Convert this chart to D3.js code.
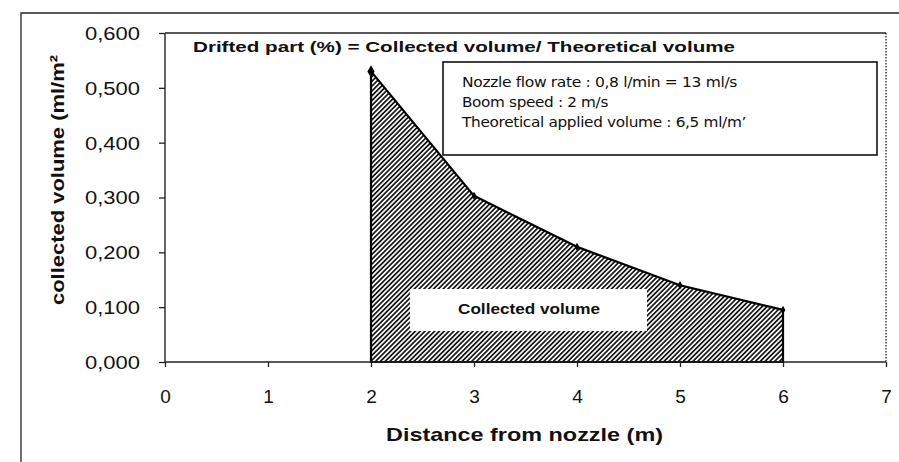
<!DOCTYPE html>
<html><head><meta charset="utf-8">
<script src="https://cdn.jsdelivr.net/npm/d3@7"></script>
<style>body{margin:0;background:#fff}svg{display:block}</style>
</head><body>
<script>
const distances = [2, 3, 4, 5, 6];
const volumes = [0.530, 0.303, 0.210, 0.140, 0.095];
const xTicks = [0, 1, 2, 3, 4, 5, 6, 7];
const yTicks = [0, 0.1, 0.2, 0.3, 0.4, 0.5, 0.6];
const titleText = "Drifted part (%) = Collected volume/ Theoretical volume";
const infoLines = ["Nozzle flow rate : 0,8 l/min = 13 ml/s", "Boom speed : 2 m/s", "Theoretical applied volume : 6,5 ml/m\u2019"];
const areaLabel = "Collected volume";

const W = 899, H = 462;
const svg = d3.select("body").append("svg").attr("width", W).attr("height", H);
const L = 165, R = 886, T = 33, B = 362;
const x = d3.scaleLinear().domain([0, 7]).range([L, R]);
const y = d3.scaleLinear().domain([0, 0.6]).range([B, T]);
const font = "Arial, 'Liberation Sans', sans-serif";

// hatch pattern
const defs = svg.append("defs");
const pat = defs.append("pattern").attr("id", "hatch").attr("patternUnits", "userSpaceOnUse")
  .attr("width", 3.4).attr("height", 3.4).attr("patternTransform", "rotate(45)");
pat.append("rect").attr("width", 3.4).attr("height", 3.4).attr("fill", "#fff");
pat.append("line").attr("x1", 0.9).attr("y1", 0).attr("x2", 0.9).attr("y2", 3.4)
  .attr("stroke", "#111").attr("stroke-width", 1.7);

// outer frame
svg.append("path").attr("d", `M21,${H} V13 H${W}`).attr("fill", "none").attr("stroke", "#222").attr("stroke-width", 1.3);

// plot border: top solid, right dotted
svg.append("line").attr("x1", L).attr("x2", R).attr("y1", T).attr("y2", T).attr("stroke", "#222").attr("stroke-width", 1.3);
svg.append("line").attr("x1", R).attr("x2", R).attr("y1", T).attr("y2", B).attr("stroke", "#222").attr("stroke-width", 1.3).attr("stroke-dasharray", "1.5,1.5");

// area
const pts = distances.map((d, i) => [d, volumes[i]]);
const area = d3.area().x(d => x(d[0])).y0(y(0)).y1(d => y(d[1]));
svg.append("path").datum(pts).attr("d", area).attr("fill", "url(#hatch)")
  .attr("stroke", "#000").attr("stroke-width", 2.2).attr("stroke-linejoin", "round");

// markers
svg.selectAll("path.mk").data(pts).enter().append("path").attr("class", "mk")
  .attr("d", (d, i) => d3.symbol().type(d3.symbolDiamond).size(i === 0 ? 45 : 20)())
  .attr("transform", d => `translate(${x(d[0])},${y(d[1])})`).attr("fill", "#000");

// axes
const yAxis = svg.append("g").attr("transform", `translate(${L},0)`)
  .call(d3.axisLeft(y).tickValues(yTicks).tickSize(6).tickPadding(19)
    .tickFormat(d => d3.format(".3f")(d).replace(".", ",")));
const xAxis = svg.append("g").attr("transform", `translate(0,${B})`)
  .call(d3.axisBottom(x).tickValues(xTicks).tickSize(5).tickPadding(23).tickFormat(d3.format("d")));
[yAxis, xAxis].forEach(g => {
  g.select(".domain").attr("stroke", "#222").attr("stroke-width", 1.4);
  g.selectAll(".tick line").attr("stroke", "#222").attr("stroke-width", 1.3);
  g.selectAll("text").attr("font-family", font).attr("fill", "#111");
});
yAxis.selectAll("text").attr("font-size", 18).attr("textLength", 55).attr("lengthAdjust", "spacingAndGlyphs")
  .attr("dy", "0.36em");
xAxis.selectAll("text").attr("font-size", 19).attr("dy", "0.71em");
xAxis.select(".domain").attr("d", `M${L},0H${R}`);
yAxis.select(".domain").attr("d", `M0,${B}V${T}`);

// title
svg.append("text").attr("x", 193).attr("y", 52).text(titleText)
  .attr("font-family", font).attr("font-weight", "bold").attr("font-size", 15.5)
  .attr("textLength", 542).attr("lengthAdjust", "spacingAndGlyphs").attr("fill", "#111");

// info box
svg.append("rect").attr("x", 443).attr("y", 62).attr("width", 434).attr("height", 93)
  .attr("fill", "#fff").attr("stroke", "#111").attr("stroke-width", 1.6);
svg.selectAll("text.info").data(infoLines).enter().append("text").attr("class", "info")
  .attr("x", 462).attr("y", (d, i) => 87 + i * 20).text(d => d)
  .attr("font-family", "Tahoma, 'DejaVu Sans', sans-serif").attr("font-size", 13.5)
  .attr("textLength", (d, i) => [275, 146, 284][i]).attr("lengthAdjust", "spacingAndGlyphs")
  .attr("letter-spacing", -0.3).attr("fill", "#111");

// collected volume box
svg.append("rect").attr("x", 410).attr("y", 289).attr("width", 237).attr("height", 42)
  .attr("fill", "#fff").attr("stroke", "none");
svg.append("text").attr("x", 458).attr("y", 314).text(areaLabel)
  .attr("font-family", font).attr("font-weight", "bold").attr("font-size", 14)
  .attr("textLength", 142).attr("lengthAdjust", "spacingAndGlyphs").attr("fill", "#111");

// axis titles
svg.append("text").attr("transform", "translate(64,305) rotate(-90)")
  .text("collected volume (ml/m²").attr("font-family", font).attr("font-weight", "bold")
  .attr("font-size", 19).attr("textLength", 250).attr("lengthAdjust", "spacingAndGlyphs").attr("fill", "#111");
svg.append("text").attr("x", 386).attr("y", 441)
  .text("Distance from nozzle (m)").attr("font-family", font).attr("font-weight", "bold")
  .attr("font-size", 19).attr("textLength", 277).attr("lengthAdjust", "spacingAndGlyphs").attr("fill", "#111");
</script>
</body></html>
